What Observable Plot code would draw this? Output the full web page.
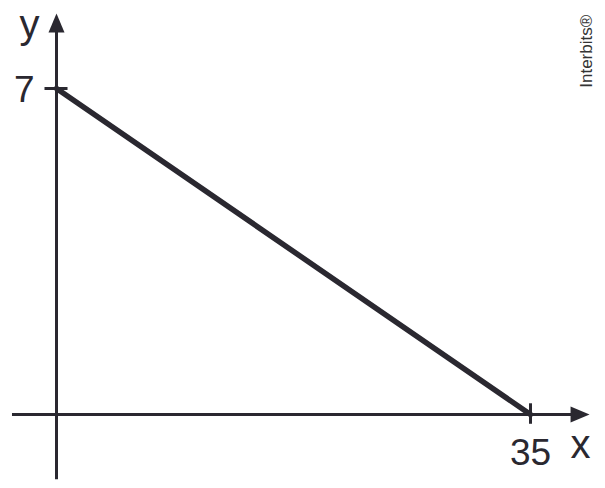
<!DOCTYPE html>
<html>
<head>
<meta charset="utf-8">
<script src="https://cdn.jsdelivr.net/npm/d3@7"></script>
<script src="https://cdn.jsdelivr.net/npm/@observablehq/plot@0.6"></script>
<style>
  body { margin: 0; background: #fff; }
  #chart svg { display: block; }
</style>
</head>
<body>
<div id="chart"></div>
<script>
// Data
const xValues = [0, 35];
const yValues = [7, 0];
const xTicks = [35];
const yTicks = [7];
const xAxisExtent = [-3.25, 39.36];
const yAxisExtent = [-1.4, 8.61];
const axisLabels = ["x", "y"];
const watermark = ["Interbits®"];

const ink = "#2a2830";
const font = "Liberation Sans, Arial, Helvetica, sans-serif";

const lineData = xValues.map((x, i) => ({x, y: yValues[i]}));

const arrowUp = {draw(ctx) { ctx.moveTo(0, 0); ctx.lineTo(8, 19); ctx.lineTo(-8, 19); ctx.closePath(); }};
const arrowRight = {draw(ctx) { ctx.moveTo(0, 0); ctx.lineTo(-19, 8); ctx.lineTo(-19, -8); ctx.closePath(); }};

const chart = Plot.plot({
  width: 605,
  height: 488,
  margin: 0,
  style: {background: "#fff", fontFamily: font},
  x: {domain: [0, 35], range: [56, 530], axis: null},
  y: {domain: [0, 7], range: [414, 88], axis: null},
  marks: [
    // axes
    Plot.ruleY([0], {x1: xAxisExtent[0], x2: xAxisExtent[1] - 1, stroke: ink, strokeWidth: 3}),
    Plot.ruleX([0], {y1: yAxisExtent[0], y2: yAxisExtent[1] - 0.3, stroke: ink, strokeWidth: 3}),
    Plot.dot([{x: xAxisExtent[1], y: 0}], {x: "x", y: "y", symbol: arrowRight, fill: ink, stroke: "none"}),
    Plot.dot([{x: 0, y: yAxisExtent[1]}], {x: "x", y: "y", symbol: arrowUp, fill: ink, stroke: "none"}),
    // ticks
    Plot.ruleY(yTicks, {x1: -0.85, x2: 0.85, stroke: ink, strokeWidth: 3}),
    Plot.ruleX(xTicks, {y1: -0.21, y2: 0.23, stroke: ink, strokeWidth: 3}),
    // tick labels
    Plot.text(yTicks, {x: 0, y: d => d, text: d => String(d), textAnchor: "end", dx: -22, dy: 2, fontSize: 37, fill: ink}),
    Plot.text(xTicks, {x: d => d, y: 0, text: d => String(d), dy: 39, fontSize: 37, fill: ink}),
    // axis labels
    Plot.text([axisLabels[0]], {x: xAxisExtent[1], y: 0, text: d => d, dx: -9, dy: 31, fontSize: 40, fill: ink}),
    Plot.text([axisLabels[1]], {x: 0, y: yAxisExtent[1], text: d => d, dx: -27, dy: 12, fontSize: 40, fill: ink}),
    // the line
    Plot.line(lineData, {x: "x", y: "y", stroke: ink, strokeWidth: 5.5}),
    // watermark
    Plot.text(watermark, {x: 39.17, y: 7.8, text: d => d, rotate: -90, fontSize: 17, fill: "#333"})
  ]
});
document.getElementById("chart").appendChild(chart);
</script>
</body>
</html>
